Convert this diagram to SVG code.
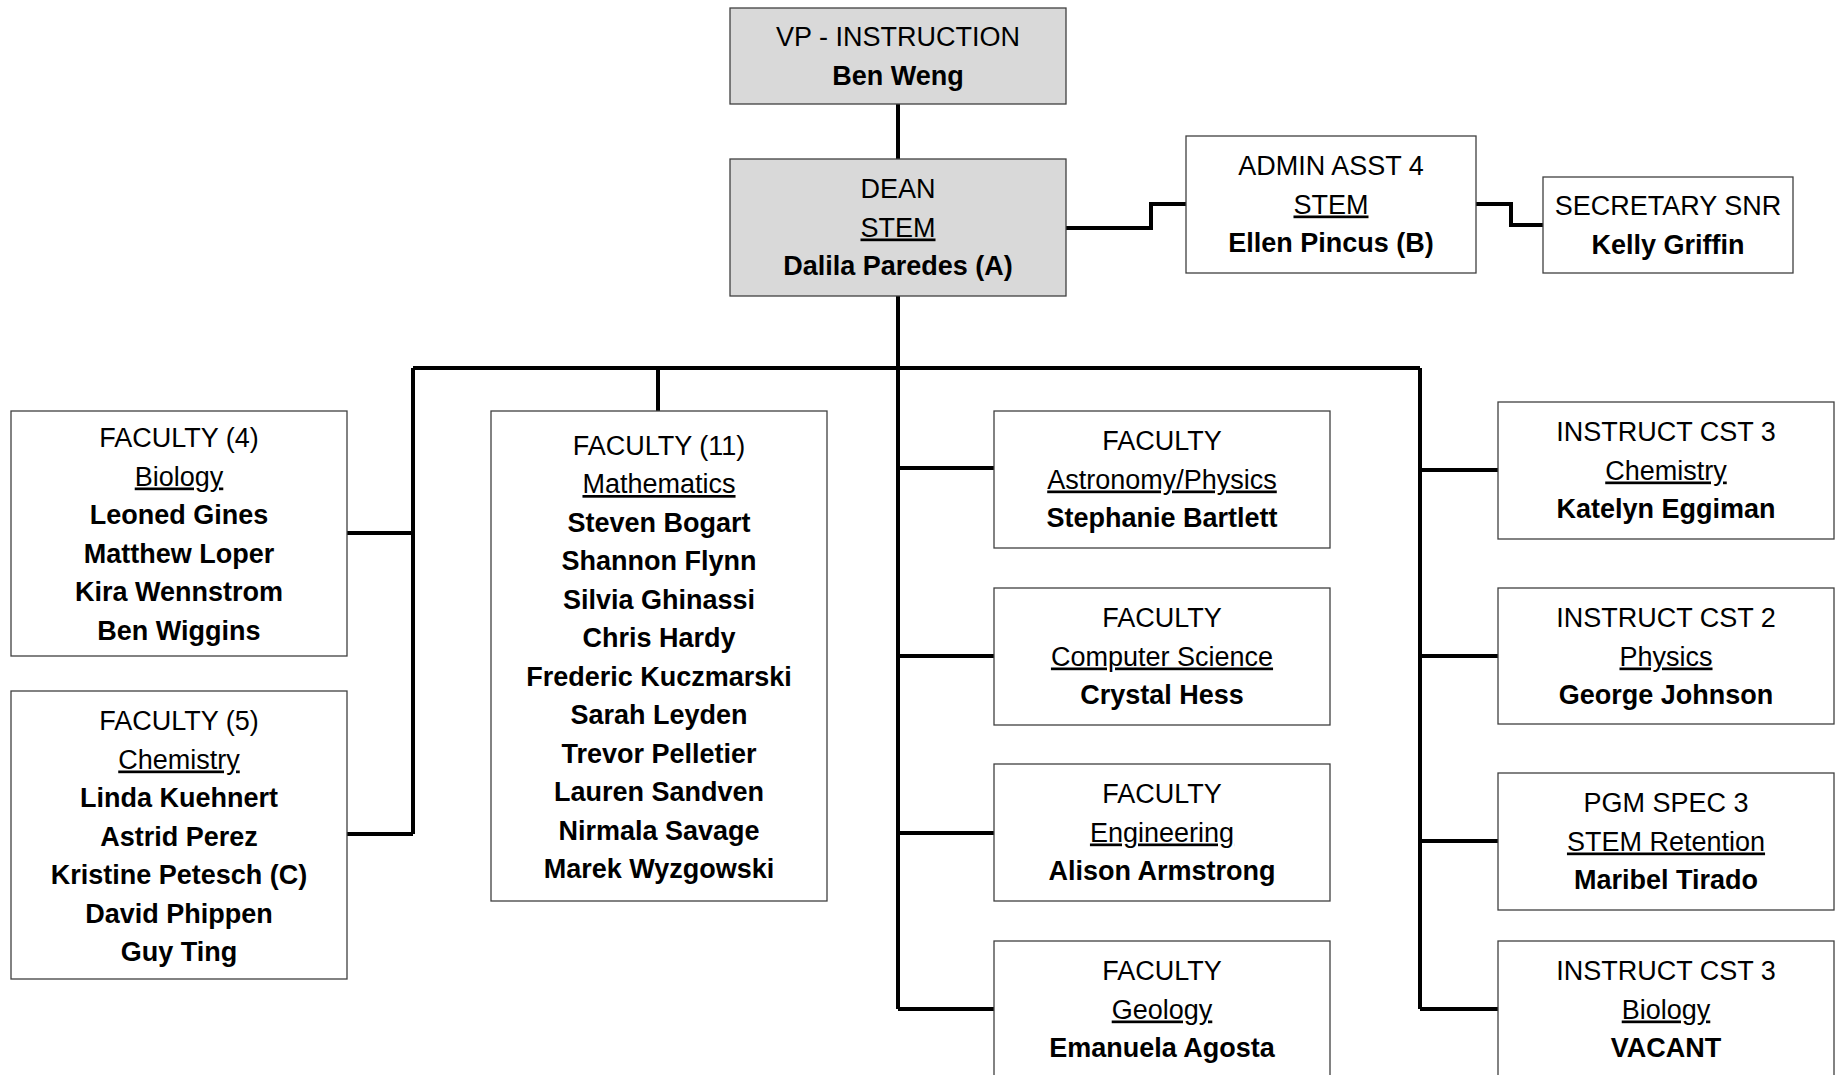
<svg xmlns="http://www.w3.org/2000/svg" width="1835" height="1075" viewBox="0 0 1835 1075">
<style>
.box{fill:#ffffff;stroke:#404040;stroke-width:1.3}
.grey{fill:#d9d9d9}
text{font-family:"Liberation Sans",Arial,sans-serif;font-size:27px;fill:#000;text-anchor:middle}
.b{font-weight:bold}
.u{text-decoration:underline}
.conn path{fill:none;stroke:#000;stroke-width:4}
</style>
<rect width="1835" height="1075" fill="#ffffff"/>
<g class="conn" id="connectors">
<path d="M898 104V159"/>
<path d="M898 296V1009"/>
<path d="M413 368H1420"/>
<path d="M413 368V834"/>
<path d="M347 533H413"/>
<path d="M347 834H413"/>
<path d="M658 368V411"/>
<path d="M898 468H994"/>
<path d="M898 656H994"/>
<path d="M898 833H994"/>
<path d="M898 1009H994"/>
<path d="M1420 368V1009"/>
<path d="M1420 470H1498"/>
<path d="M1420 656H1498"/>
<path d="M1420 841H1498"/>
<path d="M1420 1009H1498"/>
<path d="M1066 228H1151V204H1186"/>
<path d="M1476 204H1511V225H1543"/>
</g>
<g id="vp">
<rect class="box grey" x="730" y="8" width="336" height="96"/>
<text x="898" y="46">VP - INSTRUCTION</text>
<text class="b" x="898" y="84.5">Ben Weng</text>
</g>
<g id="dean">
<rect class="box grey" x="730" y="159" width="336" height="137"/>
<text x="898" y="198">DEAN</text>
<text class="u" x="898" y="236.5">STEM</text>
<text class="b" x="898" y="275">Dalila Paredes (A)</text>
</g>
<g id="admin">
<rect class="box" x="1186" y="136" width="290" height="137"/>
<text x="1331" y="175">ADMIN ASST 4</text>
<text class="u" x="1331" y="213.5">STEM</text>
<text class="b" x="1331" y="252">Ellen Pincus (B)</text>
</g>
<g id="secretary">
<rect class="box" x="1543" y="177" width="250" height="96"/>
<text x="1668" y="215">SECRETARY SNR</text>
<text class="b" x="1668" y="253.5">Kelly Griffin</text>
</g>
<g id="fac-biology">
<rect class="box" x="11" y="411" width="336" height="245"/>
<text x="179" y="447">FACULTY (4)</text>
<text class="u" x="179" y="485.5">Biology</text>
<text class="b" x="179" y="524">Leoned Gines</text>
<text class="b" x="179" y="562.5">Matthew Loper</text>
<text class="b" x="179" y="601">Kira Wennstrom</text>
<text class="b" x="179" y="639.5">Ben Wiggins</text>
</g>
<g id="fac-chemistry">
<rect class="box" x="11" y="691" width="336" height="288"/>
<text x="179" y="730">FACULTY (5)</text>
<text class="u" x="179" y="768.5">Chemistry</text>
<text class="b" x="179" y="807">Linda Kuehnert</text>
<text class="b" x="179" y="845.5">Astrid Perez</text>
<text class="b" x="179" y="884">Kristine Petesch (C)</text>
<text class="b" x="179" y="922.5">David Phippen</text>
<text class="b" x="179" y="961">Guy Ting</text>
</g>
<g id="fac-math">
<rect class="box" x="491" y="411" width="336" height="490"/>
<text x="659" y="454.5">FACULTY (11)</text>
<text class="u" x="659" y="493">Mathematics</text>
<text class="b" x="659" y="531.5">Steven Bogart</text>
<text class="b" x="659" y="570">Shannon Flynn</text>
<text class="b" x="659" y="608.5">Silvia Ghinassi</text>
<text class="b" x="659" y="647">Chris Hardy</text>
<text class="b" x="659" y="685.5">Frederic Kuczmarski</text>
<text class="b" x="659" y="724">Sarah Leyden</text>
<text class="b" x="659" y="762.5">Trevor Pelletier</text>
<text class="b" x="659" y="801">Lauren Sandven</text>
<text class="b" x="659" y="839.5">Nirmala Savage</text>
<text class="b" x="659" y="878">Marek Wyzgowski</text>
</g>
<g id="fac-astro">
<rect class="box" x="994" y="411" width="336" height="137"/>
<text x="1162" y="450">FACULTY</text>
<text class="u" x="1162" y="488.5">Astronomy/Physics</text>
<text class="b" x="1162" y="527">Stephanie Bartlett</text>
</g>
<g id="fac-cs">
<rect class="box" x="994" y="588" width="336" height="137"/>
<text x="1162" y="627">FACULTY</text>
<text class="u" x="1162" y="665.5">Computer Science</text>
<text class="b" x="1162" y="704">Crystal Hess</text>
</g>
<g id="fac-eng">
<rect class="box" x="994" y="764" width="336" height="137"/>
<text x="1162" y="803">FACULTY</text>
<text class="u" x="1162" y="841.5">Engineering</text>
<text class="b" x="1162" y="880">Alison Armstrong</text>
</g>
<g id="fac-geo">
<rect class="box" x="994" y="941" width="336" height="137"/>
<text x="1162" y="980">FACULTY</text>
<text class="u" x="1162" y="1018.5">Geology</text>
<text class="b" x="1162" y="1057">Emanuela Agosta</text>
</g>
<g id="ic-chem">
<rect class="box" x="1498" y="402" width="336" height="137"/>
<text x="1666" y="441">INSTRUCT CST 3</text>
<text class="u" x="1666" y="479.5">Chemistry</text>
<text class="b" x="1666" y="518">Katelyn Eggiman</text>
</g>
<g id="ic-phys">
<rect class="box" x="1498" y="588" width="336" height="136"/>
<text x="1666" y="627">INSTRUCT CST 2</text>
<text class="u" x="1666" y="665.5">Physics</text>
<text class="b" x="1666" y="704">George Johnson</text>
</g>
<g id="pgm-spec">
<rect class="box" x="1498" y="773" width="336" height="137"/>
<text x="1666" y="812">PGM SPEC 3</text>
<text class="u" x="1666" y="850.5">STEM Retention</text>
<text class="b" x="1666" y="889">Maribel Tirado</text>
</g>
<g id="ic-bio">
<rect class="box" x="1498" y="941" width="336" height="137"/>
<text x="1666" y="980">INSTRUCT CST 3</text>
<text class="u" x="1666" y="1018.5">Biology</text>
<text class="b" x="1666" y="1057">VACANT</text>
</g>
</svg>
